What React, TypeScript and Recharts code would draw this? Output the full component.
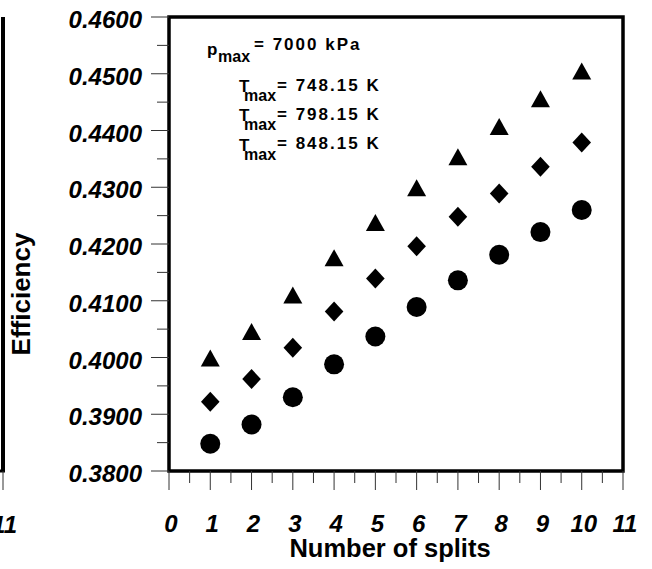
import { ScatterChart, Scatter, XAxis, YAxis, ReferenceArea } from 'recharts'

const splits = [1, 2, 3, 4, 5, 6, 7, 8, 9, 10]
const eff748 = [0.3848, 0.3882, 0.393, 0.3988, 0.4037, 0.4089, 0.4136, 0.4181, 0.4221, 0.426]
const eff798 = [0.3922, 0.3962, 0.4017, 0.4081, 0.4139, 0.4196, 0.4248, 0.4289, 0.4336, 0.4379]
const eff848 = [0.3994, 0.4041, 0.4105, 0.4171, 0.4233, 0.4294, 0.4349, 0.4402, 0.4451, 0.45]

const xTicks = [0, 0.5, 1, 1.5, 2, 2.5, 3, 3.5, 4, 4.5, 5, 5.5, 6, 6.5, 7, 7.5, 8, 8.5, 9, 9.5, 10, 10.5, 11]
const yTicks = [0.38, 0.385, 0.39, 0.395, 0.4, 0.405, 0.41, 0.415, 0.42, 0.425, 0.43, 0.435, 0.44, 0.445, 0.45, 0.455, 0.46]

const legendValues = ['748.15 K', '798.15 K', '848.15 K']

const toPoints = (ys: number[]) => splits.map((x, i) => ({ x, y: ys[i] }))

const FONT = '"Liberation Sans", Arial, sans-serif'

const Circle = (p: any) => <circle cx={p.cx} cy={p.cy} r={10} fill="#000" />
const Diamond = (p: any) => (
    <path d={`M${p.cx},${p.cy - 10} L${p.cx + 9.3},${p.cy} L${p.cx},${p.cy + 10} L${p.cx - 9.3},${p.cy} Z`} fill="#000" />
)
const Triangle = (p: any) => (
    <path d={`M${p.cx},${p.cy - 11.3} L${p.cx + 9.5},${p.cy + 5.7} L${p.cx - 9.5},${p.cy + 5.7} Z`} fill="#000" />
)

const XTick = (p: any) => {
    const v = p.payload.value
    const major = Number.isInteger(v)
    return (
        <g>
            <line x1={p.x} x2={p.x} y1={p.y} y2={p.y + (major ? 19 : 12)} stroke="#333" strokeWidth={1} />
            {major && (
                <text x={p.x + 2} y={p.y + 61} textAnchor="middle" fontFamily={FONT} fontSize={24}
                    fontWeight="bold" fontStyle="italic" fill="#000">{v}</text>
            )}
        </g>
    )
}

const YTick = (p: any) => {
    const v = p.payload.value
    const major = Math.round(v * 1000) % 10 === 0
    return (
        <g>
            <line x1={p.x - (major ? 18 : 12)} x2={p.x} y1={p.y} y2={p.y} stroke="#333" strokeWidth={1} />
            {major && (
                <text x={p.x - 27} y={p.y + 11} textAnchor="end" fontFamily={FONT} fontSize={24}
                    fontWeight="bold" fontStyle="italic" fill="#000">{v.toFixed(4)}</text>
            )}
        </g>
    )
}

export default function App() {
    const txt = { fontFamily: FONT, fontWeight: 'bold' as const, fill: '#000' }
    return (
        <div style={{ position: 'absolute', left: 0, top: 0, width: 652, height: 569, background: '#fff' }}>
            <ScatterChart width={652} height={569} margin={{ top: 17, right: 29, bottom: 38, left: 109 }}>
                <XAxis type="number" dataKey="x" domain={[0, 11]} ticks={xTicks} interval={0}
                    axisLine={false} tickLine={false} tickSize={0} tickMargin={0} height={60} tick={<XTick />} />
                <YAxis type="number" dataKey="y" domain={[0.38, 0.46]} ticks={yTicks} interval={0}
                    axisLine={false} tickLine={false} tickSize={0} tickMargin={0} width={60} tick={<YTick />} />
                <ReferenceArea x1={0} x2={11} y1={0.38} y2={0.46} fill="none" stroke="#000" strokeWidth={3.5} />
                <Scatter data={toPoints(eff748)} shape={Circle} isAnimationActive={false} />
                <Scatter data={toPoints(eff798)} shape={Diamond} isAnimationActive={false} />
                <Scatter data={toPoints(eff848)} shape={Triangle} isAnimationActive={false} />
            </ScatterChart>
            <svg width={652} height={569} style={{ position: 'absolute', left: 0, top: 0, pointerEvents: 'none' }}>
                {/* fragment of the neighbouring panel */}
                <line x1={3} x2={3} y1={17} y2={472} stroke="#000" strokeWidth={4} />
                <line x1={0} x2={5} y1={471} y2={471} stroke="#000" strokeWidth={3} />
                <line x1={3} x2={3} y1={471} y2={490} stroke="#333" strokeWidth={1} />
                <text x={17} y={533} textAnchor="end" fontSize={24} fontStyle="italic" {...txt}>11</text>

                <text x={390} y={557} textAnchor="middle" fontSize={25.5} {...txt}>Number of splits</text>
                <text transform="translate(30,294) rotate(-90)" textAnchor="middle" fontSize={26} {...txt}>Efficiency</text>

                <text x={207} y={54.5} fontSize={17} {...txt}>p</text>
                <text x={218} y={61.5} fontSize={16} {...txt}>max</text>
                <text x={254} y={50} fontSize={17} letterSpacing={2} {...txt}>= 7000 kPa</text>
                {legendValues.map((s, i) => (
                    <g key={s} transform={`translate(0,${i * 29.3})`}>
                        <text x={239} y={92} fontSize={17} {...txt}>T</text>
                        <text x={244} y={101} fontSize={16} {...txt}>max</text>
                        <text x={277} y={90.7} fontSize={17} letterSpacing={2} {...txt}>= {s}</text>
                    </g>
                ))}
            </svg>
        </div>
    )
}
